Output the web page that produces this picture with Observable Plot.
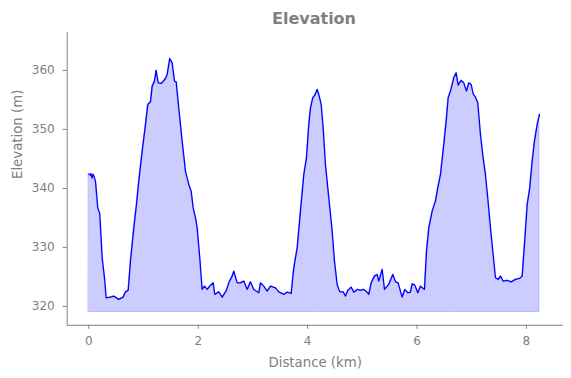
<!DOCTYPE html>
<html><head><meta charset="utf-8">
<script src="https://cdn.jsdelivr.net/npm/d3@7"></script>
<script src="https://cdn.jsdelivr.net/npm/@observablehq/plot@0.6"></script>
<style>
body{margin:0;background:#fff;font-family:"DejaVu Sans",sans-serif;}
#title{height:24px;line-height:24px;padding-top:6.5px;padding-left:57px;text-align:center;font-weight:bold;font-size:16px;color:#808080;box-sizing:content-box;}
</style></head><body>
<div id="title">Elevation</div>
<div id="chart"></div>
<script>
const distanceKm = [0.000,0.022,0.040,0.059,0.077,0.095,0.122,0.165,0.201,0.245,0.287,0.318,0.397,0.457,0.548,0.629,0.671,0.720,0.762,0.823,0.872,0.914,0.976,1.037,1.079,1.128,1.159,1.201,1.232,1.269,1.329,1.402,1.433,1.481,1.525,1.567,1.598,1.645,1.707,1.768,1.828,1.872,1.909,1.951,1.982,2.029,2.073,2.115,2.165,2.212,2.274,2.303,2.377,2.439,2.517,2.559,2.622,2.651,2.713,2.773,2.834,2.896,2.956,3.016,3.108,3.139,3.199,3.261,3.322,3.413,3.473,3.565,3.627,3.700,3.748,3.810,3.870,3.931,3.980,4.022,4.053,4.095,4.132,4.175,4.205,4.249,4.285,4.327,4.388,4.450,4.492,4.541,4.589,4.651,4.693,4.735,4.797,4.845,4.907,4.967,5.027,5.090,5.119,5.163,5.223,5.272,5.302,5.364,5.406,5.484,5.558,5.607,5.656,5.698,5.729,5.777,5.832,5.881,5.912,5.960,6.015,6.064,6.137,6.174,6.216,6.278,6.338,6.380,6.430,6.490,6.539,6.570,6.612,6.644,6.673,6.717,6.753,6.808,6.856,6.905,6.947,6.991,7.027,7.069,7.112,7.161,7.210,7.252,7.294,7.344,7.393,7.435,7.484,7.527,7.576,7.649,7.722,7.801,7.879,7.923,7.965,8.015,8.062,8.106,8.148,8.198,8.240];
const elevationM = [342.47,342.25,342.50,341.75,342.42,342.08,341.24,336.71,335.69,328.24,324.85,321.46,321.58,321.75,321.19,321.58,322.47,322.71,327.68,333.32,337.29,341.24,346.32,350.85,354.24,354.68,357.34,358.19,360.00,357.90,357.80,358.64,359.32,362.03,361.29,358.19,358.07,353.66,348.02,342.93,340.68,339.54,336.71,335.02,333.32,328.24,322.88,323.44,322.88,323.44,324.00,322.03,322.47,321.58,322.71,324.00,325.14,325.98,324.00,324.00,324.29,322.88,324.17,322.88,322.31,324.00,323.44,322.59,323.44,323.15,322.47,322.03,322.42,322.20,326.54,329.93,336.15,342.37,345.19,350.85,353.66,355.36,355.81,356.78,355.93,354.24,350.27,344.07,338.41,332.76,327.68,323.73,322.47,322.47,321.75,322.71,323.27,322.42,322.88,322.71,322.88,322.40,322.03,324.00,325.14,325.42,324.29,326.27,322.88,323.73,325.42,324.17,324.00,322.59,321.58,322.88,322.31,322.42,323.83,323.61,322.31,323.44,322.88,329.37,333.32,336.15,337.85,340.10,342.37,347.46,351.97,355.36,356.49,357.63,358.75,359.59,357.51,358.31,357.90,356.49,357.90,357.63,356.03,355.47,354.51,349.15,345.19,342.37,338.41,333.32,328.81,324.85,324.58,325.14,324.29,324.41,324.17,324.58,324.75,325.14,330.51,337.29,340.10,344.63,348.02,350.85,352.54];
const xTicks = [0, 2, 4, 6, 8];
const yTicks = [320, 330, 340, 350, 360];
const fillBase = 319.05;
const xDomain = [-0.395, 8.673];
const yDomain = [316.8, 366.4];
const xLabel = "Distance (km)";
const yLabel = "Elevation (m)";

const data = distanceKm.map((d, i) => ({d, e: elevationM[i]}));
const chart = Plot.plot({
  width: 571, height: 347.5,
  marginTop: 1.2, marginBottom: 53.7, marginLeft: 66.7, marginRight: 8.3,
  style: {fontFamily: "DejaVu Sans", fontSize: "12px", color: "#808080", background: "white"},
  x: {domain: xDomain},
  y: {domain: yDomain},
  marks: [
    Plot.areaY(data, {x: "d", y1: fillBase, y2: "e", fill: "blue", fillOpacity: 0.2, stroke: "blue", strokeOpacity: 0.2, strokeWidth: 1}),
    Plot.lineY(data, {x: "d", y: "e", stroke: "blue", strokeWidth: 1.3}),
    Plot.ruleX([xDomain[0]], {stroke: "#808080", strokeWidth: 1}),
    Plot.ruleY([yDomain[0]], {stroke: "#808080", strokeWidth: 1}),
    Plot.axisX({ticks: xTicks, tickSize: 4, tickPadding: 7.5, label: null, fontSize: 12}),
    Plot.axisY({ticks: yTicks, tickSize: 4, tickPadding: 8.5, label: null, fontSize: 12}),
    Plot.text([xLabel], {text: d => d, frameAnchor: "bottom", dy: 41.2, lineAnchor: "bottom", fontSize: 13.3, fill: "#808080"}),
    Plot.text([yLabel], {text: d => d, frameAnchor: "left", dx: -45, rotate: -90, lineAnchor: "bottom", fontSize: 13.3, fill: "#808080"})
  ]
});
document.getElementById("chart").appendChild(chart);
</script>
</body></html>
